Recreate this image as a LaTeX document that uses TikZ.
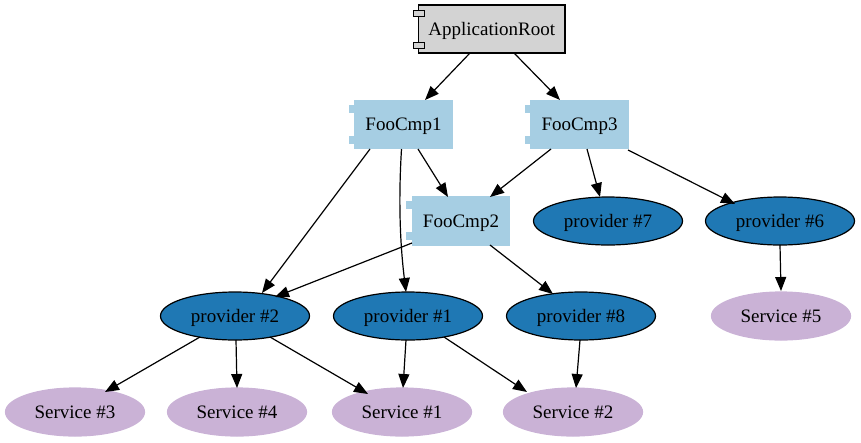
\documentclass[tikz,border=0pt]{standalone}
\usepackage{fontspec}
\setmainfont{Liberation Serif}
\usetikzlibrary{arrows.meta,shapes.geometric}
\definecolor{cmpblue}{HTML}{A6CEE3}
\definecolor{provblue}{HTML}{1F78B4}
\definecolor{svcpurple}{HTML}{CAB2D6}
\definecolor{rootgrey}{HTML}{D3D3D3}
\tikzset{
  x=1pt,y=-1pt,
  lbl/.style={font=\fontsize{19}{20}\selectfont,text=black,text height=13pt,text depth=1pt},
  rootbox/.style={lbl,rectangle,draw=black,line width=1.2pt,fill=rootgrey,minimum width=146.5pt,minimum height=48pt,inner sep=0pt},
  roottab/.style={rectangle,draw=black,line width=1pt,fill=rootgrey,minimum width=11pt,minimum height=6pt,inner sep=0pt},
  cmpbox/.style={lbl,rectangle,draw=cmpblue,line width=1.2pt,fill=cmpblue,minimum width=97pt,minimum height=48pt,inner sep=0pt},
  cmptab/.style={rectangle,draw=cmpblue,line width=1.2pt,fill=cmpblue,minimum width=10pt,minimum height=6pt,inner sep=0pt},
  provider/.style={lbl,ellipse,draw=black,line width=1.2pt,fill=provblue,minimum width=149pt,minimum height=48pt,inner sep=0pt},
  service/.style={lbl,ellipse,draw=svcpurple,line width=1.2pt,fill=svcpurple,minimum width=139pt,minimum height=48pt,inner sep=0pt},
  edge/.style={draw=black,line width=1.2pt,-{Triangle[length=14pt,width=11pt]}}
}
\newcommand{\edgeline}[6]{\draw[edge] ([shift={(#2,#3)}]#1.center) -- ([shift={(#5,#6)}]#4.center);}
\begin{document}
\begin{tikzpicture}
\useasboundingbox (0,0) rectangle (861,442);
% components
\node[rootbox] (root) at (491.75,29) {ApplicationRoot};
\node[roottab] (roottabA) at (418.5,13) {};
\node[roottab] (roottabB) at (418.5,45) {};
\node[cmptab] (fooAtabA) at (355,109) {};
\node[cmptab] (fooAtabB) at (355,140) {};
\node[cmpbox] (fooA) at (403.5,124.5) {FooCmp1};
\node[cmptab] (fooCtabA) at (531,109) {};
\node[cmptab] (fooCtabB) at (531,140) {};
\node[cmpbox] (fooC) at (579.5,124.5) {FooCmp3};
\node[cmptab] (fooBtabA) at (412,205) {};
\node[cmptab] (fooBtabB) at (412,236) {};
\node[cmpbox] (fooB) at (461,221) {FooCmp2};
% providers
\node[provider] (p2) at (235,316) {provider \#2};
\node[provider] (p1) at (408,316) {provider \#1};
\node[provider] (p8) at (581,316) {provider \#8};
\node[provider] (p7) at (608,221) {provider \#7};
\node[provider] (p6) at (780,221) {provider \#6};
% services
\node[service] (s5) at (781,316) {Service \#5};
\node[service] (s3) at (75,412) {Service \#3};
\node[service] (s4) at (237,412) {Service \#4};
\node[service] (s1) at (402,412) {Service \#1};
\node[service] (s2) at (573,412) {Service \#2};
% edges
\edgeline{root}{-21.75}{24}{fooA}{21.5}{-24.5}
\edgeline{root}{22.25}{24}{fooC}{-19.5}{-24.5}
\edgeline{fooA}{14.5}{24.5}{fooB}{-13}{-24}
\edgeline{fooA}{-33.5}{24.5}{p2}{27}{-23}
\draw[edge] ([shift={(-2,24.5)}]fooA.center) .. controls (399,190) and (399,235) .. ([shift={(-2,-24)}]p1.center);
\edgeline{fooC}{-28.5}{24.5}{fooB}{29}{-24}
\edgeline{fooC}{7.5}{24.5}{p7}{-8}{-24}
\edgeline{fooC}{48.5}{25.5}{p6}{-45}{-17}
\edgeline{fooB}{-49}{22}{p2}{40}{-19}
\edgeline{fooB}{29}{24}{p8}{-28}{-22}
\edgeline{p6}{0}{24}{s5}{0}{-25}
\edgeline{p2}{-35}{21}{s3}{30}{-20}
\edgeline{p2}{1}{24}{s4}{0}{-24}
\edgeline{p2}{35}{21}{s1}{-34}{-18}
\edgeline{p1}{-2}{24}{s1}{1}{-24}
\edgeline{p1}{36}{21}{s2}{-46}{-20}
\edgeline{p8}{-1}{24}{s2}{3}{-24}
\end{tikzpicture}
\end{document}
